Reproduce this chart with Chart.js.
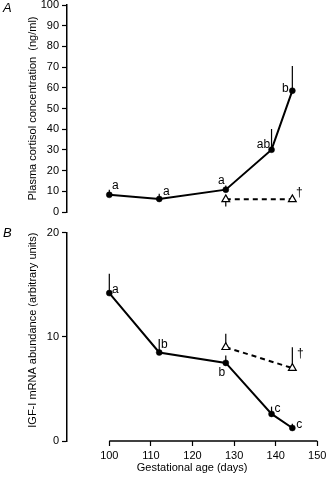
<!DOCTYPE html>
<html>
<head>
<meta charset="utf-8">
<script src="https://cdn.jsdelivr.net/npm/chart.js@4"></script>
<style>
body { margin: 0; background: #fff; }
#wrap { position: relative; width: 331px; height: 479px; overflow: hidden; background: #fff; }
canvas { position: absolute; left: 0; }
#cortisolChart { top: -5px; }
#igfChart { top: 222px; }
.panel { position: absolute; left: 3px; font: italic 13px "Liberation Sans", Arial, sans-serif; color: #000; }
</style>
</head>
<body>
<div id="wrap">
  <canvas id="cortisolChart" width="331" height="235"></canvas>
  <canvas id="igfChart" width="331" height="257"></canvas>
  <div class="panel" style="top:0px">A</div>
  <div class="panel" style="top:225px">B</div>
</div>
<script>
const FONT = '"Liberation Sans", Arial, sans-serif';

// gestational age (days)
const ages = [100, 112, 128, 139, 144];
const agesTreated = [128, 144];
const xTicksFrom = 100;

// A: plasma cortisol (ng/ml)
const cortisol = [8.3, 6.3, 10.8, 30.1, 58.6];
const cortisolSem = [2.5, 2.5, 2, 10, 11.9];
const cortisolLetters = ['a', 'a', 'a', 'ab', 'b'];
const cortisolTreated = [6.1, 6.1];
const cortisolTreatedSem = [3.5, 0];
const cortisolTreatedMarks = ['', '†'];

// B: IGF-I mRNA (arbitrary units)
const igf = [14.2, 8.5, 7.5, 2.6, 1.25];
const igfSem = [1.85, 1.3, 0.7, 0.7, 0.4];
const igfLetters = ['a', 'b', 'b', 'c', 'c'];
const igfTreated = [9.0, 7.0];
const igfTreatedSem = [1.3, 2.0];
const igfTreatedMarks = ['', '†'];

const pts = (xs, ys) => xs.map((x, i) => ({x: x, y: ys[i]}));

// one-sided SEM bars
const errorBars = {
  id: 'errorBars',
  beforeDatasetsDraw(chart) {
    const ctx = chart.ctx, y = chart.scales.y;
    ctx.save();
    ctx.strokeStyle = '#000';
    ctx.lineWidth = 1.2;
    chart.data.datasets.forEach((ds, di) => {
      chart.getDatasetMeta(di).data.forEach((pt, i) => {
        const sem = ds.sem[i];
        if (!sem) return;
        const v = ds.data[i].y;
        const end = ds.barSide && ds.barSide[i] === 'down' ? v - sem : v + sem;
        ctx.beginPath();
        ctx.moveTo(pt.x, pt.y);
        ctx.lineTo(pt.x, y.getPixelForValue(end));
        ctx.stroke();
      });
    });
    ctx.restore();
  }
};

// significance letters next to points
const pointMarks = {
  id: 'pointMarks',
  afterDatasetsDraw(chart) {
    const ctx = chart.ctx;
    ctx.save();
    ctx.fillStyle = '#000';
    ctx.font = '12px ' + FONT;
    ctx.textAlign = 'center';
    ctx.textBaseline = 'middle';
    chart.data.datasets.forEach((ds, di) => {
      if (!ds.marks) return;
      chart.getDatasetMeta(di).data.forEach((pt, i) => {
        if (!ds.marks[i]) return;
        const off = ds.markOffset[i];
        ctx.fillText(ds.marks[i], pt.x + off[0], pt.y + off[1]);
      });
    });
    ctx.restore();
  }
};

// x axis line only from 100 to 150
const xAxisLine = {
  id: 'xAxisLine',
  afterDraw(chart) {
    const x = chart.scales.x;
    if (!x.options.display) return;
    const ctx = chart.ctx, yPix = chart.chartArea.bottom;
    ctx.save();
    ctx.strokeStyle = '#000';
    ctx.lineWidth = 1.5;
    ctx.beginPath();
    ctx.moveTo(x.getPixelForValue(xTicksFrom), yPix);
    ctx.lineTo(x.getPixelForValue(x.max), yPix);
    ctx.stroke();
    ctx.restore();
  }
};

function yScale(max, title, align) {
  return {
    min: 0, max: max,
    ticks: {stepSize: 10, color: '#000', font: {size: 11, family: FONT}, padding: 3},
    grid: {drawOnChartArea: false, tickLength: 5, tickColor: '#000', tickWidth: 1.2},
    border: {color: '#000', width: 1.5},
    title: {display: true, text: title, color: '#000', font: {size: 11, family: FONT},
            padding: {top: 26, bottom: 0}, align: align},
    afterFit: s => { s.width = 67; }
  };
}

function xScale(show) {
  return {
    type: 'linear', min: 89.83, max: 150, display: show,
    afterBuildTicks: s => { s.ticks = s.ticks.filter(t => t.value >= xTicksFrom); },
    ticks: {stepSize: 10, color: '#000', font: {size: 11, family: FONT}, padding: 3, maxRotation: 0},
    grid: {drawOnChartArea: false, tickLength: 5, tickColor: '#000', tickWidth: 1.2},
    border: {display: false},
    title: {display: true, text: 'Gestational age (days)', color: '#000',
            font: {size: 11, family: FONT}, padding: {top: 0, bottom: 4}},
    afterFit: s => { s.height = show ? 38 : 0; }
  };
}

function solidSet(ys, sem, letters, offsets) {
  return {
    data: pts(ages, ys), sem: sem, marks: letters, markOffset: offsets,
    borderColor: '#000', borderWidth: 2, backgroundColor: '#000',
    pointRadius: 3, pointBorderWidth: 0.5, pointBackgroundColor: '#000', pointBorderColor: '#000', tension: 0
  };
}

function treatedSet(ys, sem, marks, offsets, side) {
  return {
    data: pts(agesTreated, ys), sem: sem, marks: marks, markOffset: offsets, barSide: side,
    borderColor: '#000', borderWidth: 2, borderDash: [5, 4],
    pointStyle: 'triangle', pointRadius: 4.5, pointBackgroundColor: '#fff',
    pointBorderColor: '#000', pointBorderWidth: 1.2, tension: 0
  };
}

const common = {
  responsive: false, animation: false,
  plugins: {legend: {display: false}, tooltip: {enabled: false}}
};

new Chart(document.getElementById('cortisolChart'), {
  type: 'line',
  data: {datasets: [
    treatedSet(cortisolTreated, cortisolTreatedSem, cortisolTreatedMarks, [[0, 0], [7, -7]], ['down', 'up']),
    solidSet(cortisol, cortisolSem, cortisolLetters, [[6, -9], [7, -7], [-4.5, -8.5], [-8, -5.5], [-7, -2]])
  ]},
  options: Object.assign({}, common, {
    layout: {padding: {top: 10, bottom: 18, left: 0, right: 13.7}},
    scales: {
      x: xScale(false),
      y: yScale(100, 'Plasma cortisol concentration  (ng/ml)', 'center')
    }
  }),
  plugins: [errorBars, pointMarks]
});

new Chart(document.getElementById('igfChart'), {
  type: 'line',
  data: {datasets: [
    treatedSet(igfTreated, igfTreatedSem, igfTreatedMarks, [[0, 0], [8, -14]], ['up', 'up']),
    solidSet(igf, igfSem, igfLetters, [[6, -3], [5, -8], [-4, 10], [6, -5], [7, -3]])
  ]},
  options: Object.assign({}, common, {
    layout: {padding: {top: 10.7, bottom: 0, left: 0, right: 13.7}},
    scales: {
      x: xScale(true),
      y: yScale(20, 'IGF-I mRNA abundance (arbitrary units)', 'end')
    }
  }),
  plugins: [errorBars, pointMarks, xAxisLine]
});
</script>
</body>
</html>
